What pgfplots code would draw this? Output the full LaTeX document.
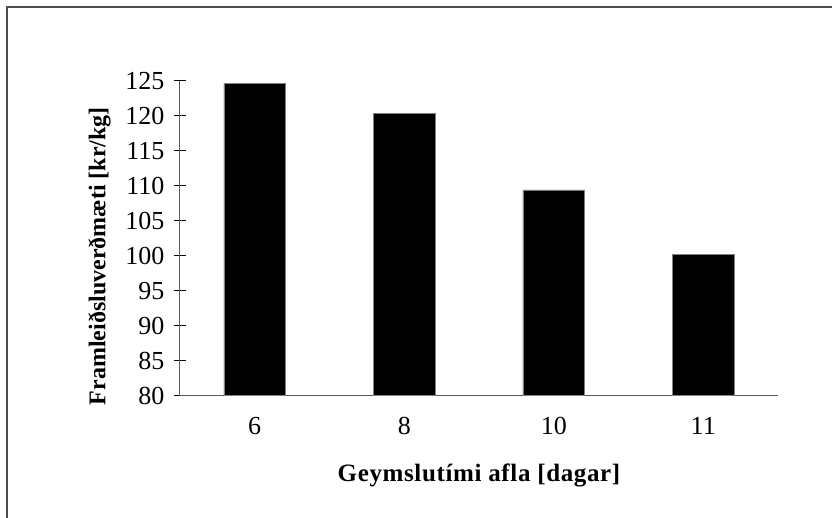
\documentclass[border=0pt]{standalone}
\usepackage{pgfplots}
\pgfplotsset{compat=1.18}
\usepackage{fontspec}
\setmainfont{Liberation Serif}
\usetikzlibrary{calc}

\begin{document}
\begin{tikzpicture}
  \begin{axis}[
    scale only axis,
    width=598bp, height=315bp,
    xmin=-0.5, xmax=3.5,
    ymin=80, ymax=125,
    axis x line=bottom,
    axis y line=left,
    axis line style={-, gray!70!black, line width=1bp},
    ybar, bar width=61.7bp,
    xtick={0,1,2,3},
    xticklabels={6,8,10,11},
    xtick style={draw=none},
    minor xtick={-0.5,0.5,1.5,2.5,3.5},
    minor tick length=13bp,
    major tick length=12bp,
    tick align=center,
    tick style={black, line width=0.8bp},
    ytick={80,85,...,125},
    ticklabel style={font=\fontsize{26bp}{30bp}\selectfont},
    /pgf/number format/assume math mode=true,
    xticklabel style={yshift=-12bp},
    yticklabel style={xshift=-6bp},
    xlabel={Geymslutími afla [dagar]},
    ylabel={Framleiðsluverðmæti [kr/kg]},
    xlabel style={font=\fontsize{25bp}{30bp}\selectfont\bfseries\addfontfeature{LetterSpace=2.5}, yshift=-22bp},
    ylabel style={font=\fontsize{24bp}{29bp}\selectfont\bfseries, yshift=8bp, xshift=-18bp},
    clip=false,
  ]
    \addplot+[fill=black, draw=gray, line width=0.5bp, mark=none]
      coordinates {(0,124.6) (1,120.3) (2,109.4) (3,100.2)};
    \coordinate (ll) at (rel axis cs:0,0);
  \end{axis}
  \useasboundingbox ($(ll)+(-180bp,-122.3bp)$) rectangle ($(ll)+(652bp,395.7bp)$);
  \draw[gray!60!black, line width=1.5bp]
    ($(ll)+(-173bp,-140bp)$) -- ($(ll)+(-173bp,388.7bp)$) -- ($(ll)+(670bp,388.7bp)$);
\end{tikzpicture}
\end{document}
